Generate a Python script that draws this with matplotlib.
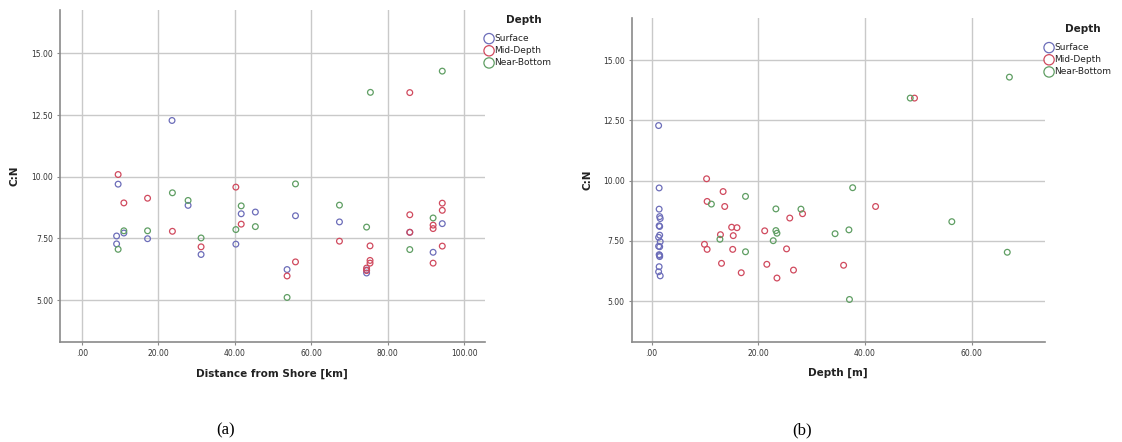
import matplotlib
matplotlib.use("Agg")
import matplotlib.pyplot as plt
from matplotlib.ticker import FuncFormatter

# (a) C:N versus distance from shore [km]
surf_dist = [23.6, 9.5, 27.8, 41.7, 45.4, 40.3, 11.0, 9.1, 9.1, 17.2, 31.2,
             55.9, 53.7, 67.4, 74.5, 74.5, 85.8, 94.3, 91.9]
surf_cn_a = [12.28, 9.70, 8.84, 8.50, 8.57, 7.27, 7.72, 7.60, 7.28, 7.49, 6.85,
             8.42, 6.24, 8.17, 6.22, 6.10, 7.75, 8.10, 6.94]
mid_dist = [9.5, 11.0, 17.2, 40.3, 41.7, 23.7, 31.2, 55.9, 53.7, 67.4, 75.4,
            75.4, 75.4, 74.5, 74.5, 85.8, 85.8, 91.9, 91.9, 94.3, 94.3, 94.3,
            91.9, 85.8]
mid_cn_a = [10.09, 8.94, 9.13, 9.58, 8.08, 7.79, 7.16, 6.55, 5.98, 7.39, 7.20,
            6.61, 6.50, 6.30, 6.20, 8.46, 7.75, 8.04, 7.90, 8.93, 8.64, 7.19,
            6.50, 13.41]
near_dist = [75.5, 94.3, 23.7, 27.8, 41.7, 45.4, 40.3, 11.0, 9.5, 17.2, 31.2,
             55.9, 53.7, 67.4, 74.5, 85.8, 91.9]
near_cn_a = [13.42, 14.28, 9.35, 9.04, 8.82, 7.98, 7.86, 7.81, 7.06, 7.81, 7.52,
             9.71, 5.11, 8.85, 7.96, 7.05, 8.33]

# (b) C:N versus sampling depth [m]
surf_depth = [1.3, 1.4, 1.4, 1.5, 1.6, 1.4, 1.5, 1.5, 1.3, 1.6, 1.5, 1.3, 1.4,
              1.5, 1.4, 1.3, 1.6, 1.5]
surf_cn_b = [12.29, 9.70, 8.82, 8.51, 8.43, 8.13, 8.10, 7.74, 7.65, 7.47, 7.26,
             7.28, 6.93, 6.85, 6.43, 6.22, 6.05, 6.90]
mid_depth = [10.3, 13.4, 10.4, 13.7, 15.0, 16.0, 12.9, 15.3, 21.2, 25.9, 28.3,
             9.9, 10.4, 15.2, 25.3, 13.1, 16.8, 21.6, 23.5, 26.6, 42.0, 36.0,
             49.3]
mid_cn_b = [10.08, 9.55, 9.14, 8.93, 8.07, 8.05, 7.76, 7.72, 7.92, 8.45, 8.63,
            7.36, 7.15, 7.15, 7.17, 6.57, 6.18, 6.53, 5.96, 6.29, 8.93, 6.49,
            13.43]
near_depth = [17.6, 11.2, 23.3, 28.0, 23.3, 23.5, 34.4, 12.8, 22.8, 17.6, 37.7,
              37.0, 37.1, 56.3, 66.7, 48.5, 67.1]
near_cn_b = [9.35, 9.03, 8.83, 8.82, 7.93, 7.82, 7.80, 7.57, 7.51, 7.05, 9.71,
             7.96, 5.07, 8.30, 7.03, 13.43, 14.30]

groups = ["Surface", "Mid-Depth", "Near-Bottom"]
colors = ["#6c6db9", "#d04a5e", "#5f9e63"]


def fmt(v, pos):
    s = "%.2f" % v
    if s.startswith("0"):
        s = s[1:]
    return s


def style(ax, xticks, xlabel, xlim):
    ax.set_xlim(*xlim)
    ax.set_ylim(3.3, 16.75)
    ax.set_xticks(xticks)
    ax.set_yticks([5, 7.5, 10, 12.5, 15])
    ax.xaxis.set_major_formatter(FuncFormatter(fmt))
    ax.yaxis.set_major_formatter(FuncFormatter(fmt))
    ax.grid(True, color="#c9c9c9", linewidth=1.0)
    ax.set_axisbelow(True)
    for s in ["top", "right"]:
        ax.spines[s].set_visible(False)
    for s in ["left", "bottom"]:
        ax.spines[s].set_color("#8a8a8a")
        ax.spines[s].set_linewidth(1.2)
    ax.tick_params(length=2, color="#8a8a8a", labelsize=5.5, labelcolor="#333333", pad=3)
    ax.set_xlabel(xlabel, fontsize=7.5, fontweight="bold", color="#222222")
    ax.set_ylabel("C:N", fontsize=7.5, fontweight="bold", color="#222222")
    ax.xaxis.set_label_coords(0.5, -0.08)
    ax.yaxis.set_label_coords(-0.095, 0.5)


fig = plt.figure(figsize=(11.22, 4.42), dpi=100)
ax1 = fig.add_axes([0.0535, 0.226, 0.3785, 0.751])
ax2 = fig.add_axes([0.563, 0.226, 0.368, 0.733])

data_a = [(surf_dist, surf_cn_a), (mid_dist, mid_cn_a), (near_dist, near_cn_a)]
data_b = [(surf_depth, surf_cn_b), (mid_depth, mid_cn_b), (near_depth, near_cn_b)]

for ax, data in [(ax1, data_a), (ax2, data_b)]:
    for (xs, ys), g, c in zip(data, groups, colors):
        ax.scatter(xs, ys, s=17, facecolors="none", edgecolors=c, linewidths=0.9,
                   label=g, zorder=3)

style(ax1, [0, 20, 40, 60, 80, 100], "Distance from Shore [km]", (-5.7, 105.4))
style(ax2, [0, 20, 40, 60], "Depth [m]", (-3.75, 73.7))

# legends: (left x of marker, title centre x, title y, first entry top y) in pixels
legend_pos = [(ax1, 485, 524, 20, 34), (ax2, 1045, 1083, 29, 43)]
for ax, lx, tx, ty, ey in legend_pos:
    leg = ax.legend(loc="upper left", bbox_to_anchor=(lx / 1122, 1 - ey / 442),
                    bbox_transform=fig.transFigure, frameon=False, fontsize=6.5,
                    markerscale=1.8, handletextpad=0.15, labelspacing=0.35,
                    borderpad=0, handlelength=0.9, borderaxespad=0)
    for t in leg.get_texts():
        t.set_color("#222222")
    fig.text(tx / 1122, 1 - ty / 442, "Depth", fontsize=7.5, fontweight="bold",
             color="#222222", ha="center", va="center")

fig.text(226 / 1122, 1 - 430 / 442, "(a)", fontsize=12, family="Liberation Serif",
         ha="center", va="center")
fig.text(802 / 1122, 1 - 430 / 442, "(b)", fontsize=12, family="Liberation Serif",
         ha="center", va="center")

fig.savefig("out.png", dpi=100)
